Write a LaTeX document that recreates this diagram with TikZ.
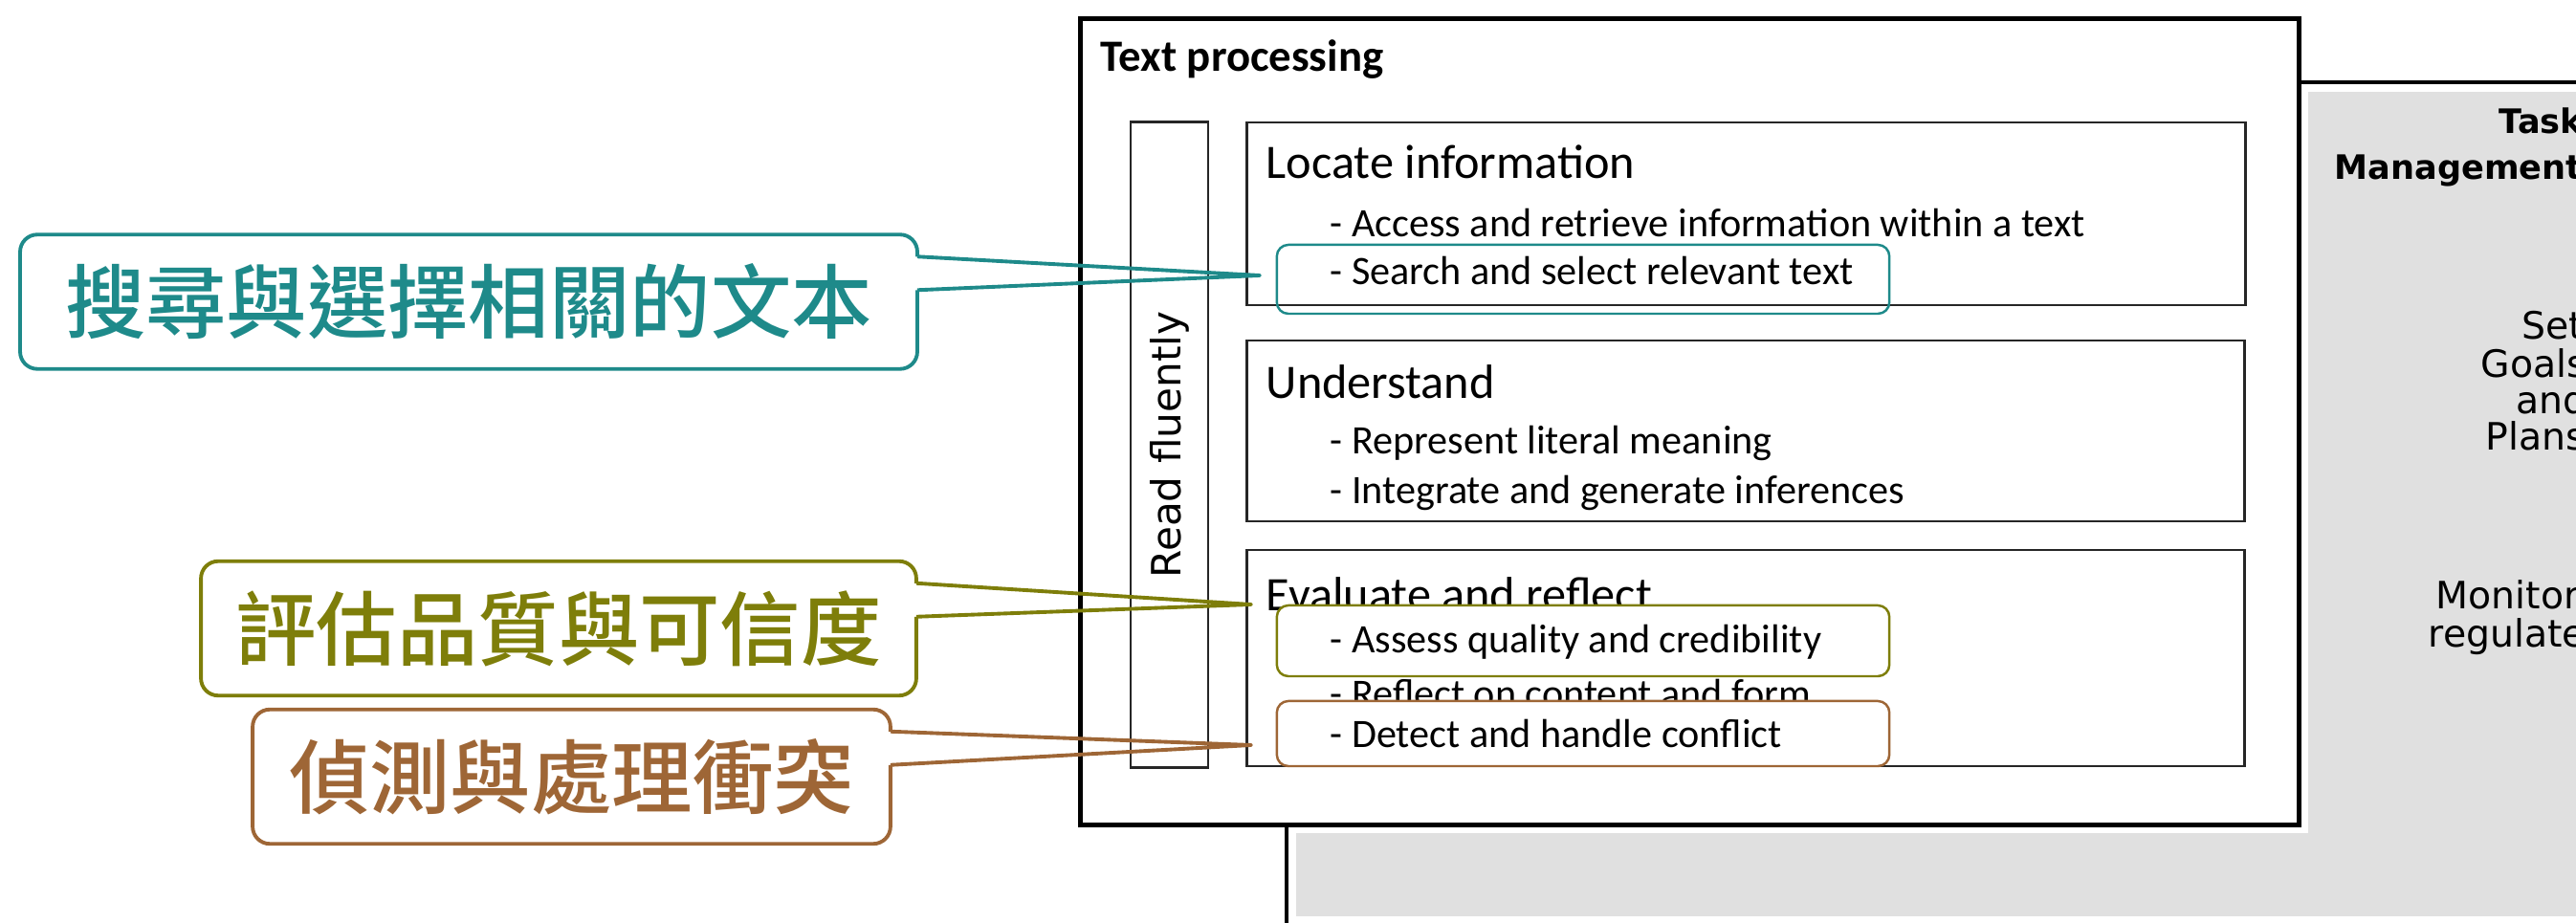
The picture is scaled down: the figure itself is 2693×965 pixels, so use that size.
\documentclass[tikz,border=0pt]{standalone}
\usepackage{fontspec}
\setmainfont{Carlito}
\newfontfamily\dejavu{DejaVu Sans}
\newfontfamily\cjkfont{Noto Sans CJK TC Medium}
\usepackage{tikz}

\definecolor{calteal}{RGB}{30,138,138}
\definecolor{calolive}{RGB}{126,126,10}
\definecolor{calbrown}{RGB}{158,102,54}
\definecolor{panelgray}{RGB}{224,224,224}

\tikzset{
	frame/.style={draw=black, line width=1.4pt, inner sep=0},
	stagebox/.style={draw=black!85, line width=0.8pt, inner sep=0},
	heading/.style={anchor=base west, inner sep=0, font=\fontsize{14.3}{16}\selectfont},
	bullet/.style={anchor=base west, inner sep=0, font=\fontsize{12}{14}\selectfont},
	panelword/.style={anchor=base west, inner sep=0, font=\dejavu\fontsize{11.2}{13}\selectfont},
	panelhead/.style={anchor=base west, inner sep=0, font=\dejavu\bfseries\fontsize{10}{12}\selectfont},
	hlbox/.style={draw=#1, line width=0.7pt, rounded corners=0.12cm, minimum width=6.4cm, inner sep=0},
	callout/.style={text=#1, inner sep=0, minimum height=1.39cm, font=\cjkfont\fontsize{24}{28}\selectfont},
	calline/.style={draw=#1, line width=1.1pt, line join=round}
}

\begin{document}
\begin{tikzpicture}[x=0.01cm, y=-0.01cm]
	\useasboundingbox (0,0) rectangle (2693,965);
	\clip (0,0) rectangle (2693,965);
	% task management panel, runs off the page
	\fill[white] (1345,86) rectangle (2760,1000);
	\fill[panelgray] (1355,96) rectangle (2760,958);
	\fill[white] (1121,11) rectangle (2413,871);
	\draw[frame] (1345,86) rectangle (2760,1000);
	\node[panelhead] (pwtask) at (2612,140) {Task};
	\node[panelhead] (pwmgmt) at (2440,188) {Management};
	\foreach \w/\x/\y in {Set/2636/355, Goals/2593/395, and/2630/433, Plans/2598/471, Monitor/2546/637, regulate/2538/677}
	\node[panelword] (pw\w) at (\x,\y) {\w};
	% text processing
	\node[frame, fill=white, minimum width=12.73cm, minimum height=8.42cm] (textproc) at (1766.5,441) {};
	\node[anchor=base west, inner sep=0, font=\bfseries\fontsize{13.3}{15}\selectfont] (tptitle) at (1150,75) {Text processing};
	\node[stagebox, rotate=90, minimum width=6.74cm, minimum height=0.81cm, font=\dejavu\fontsize{12}{14}\selectfont] (fluent) at (1222.5,465) {Read fluently};
	\node[stagebox, minimum width=10.43cm, minimum height=1.91cm] (locate) at (1825.5,223.5) {};
	\node[stagebox, minimum width=10.42cm, minimum height=1.89cm] (understand) at (1825,450.5) {};
	\node[stagebox, minimum width=10.42cm, minimum height=2.26cm] (evaluate) at (1825,688) {};
	\node[heading] (locatehd) at (1323,187) {Locate information};
	\node[heading] (understandhd) at (1323,417) {Understand};
	\node[heading] (evaluatehd) at (1323,639) {Evaluate and reflect};
	\foreach \nm/\y/\txt in {access/248/- Access and retrieve information within a text, search/298/- Search and select relevant text, represent/475/- Represent literal meaning, integrate/527/- Integrate and generate inferences, reflect/740/- Reflect on content and form}
	\node[bullet] (bl\nm) at (1390,\y) {\txt};
	% highlighted items
	\node[hlbox=calteal, minimum height=0.72cm] (hlsearch) at (1655,292) {};
	\node[hlbox=calolive, fill=white, minimum height=0.74cm] (hlassess) at (1655,670) {};
	\node[hlbox=calbrown, fill=white, minimum height=0.68cm] (hldetect) at (1655,767) {};
	\node[bullet] (blassess) at (1390,683) {- Assess quality and credibility};
	\node[bullet] (bldetect) at (1390,782) {- Detect and handle conflict};
	% callouts
	\foreach \nm/\col/\cx/\cy/\cw/\tx/\ty/\txt in {search/calteal/490/315.5/9.36/1317/288/搜尋與選擇相關的文本, assess/calolive/584/657/7.46/1308/632/評估品質與可信度, detect/calbrown/597.5/812/6.65/1308/779/偵測與處理衝突}
	{
		\node[callout=\col, minimum width=\cw cm] (co\nm) at (\cx,\cy) {\txt};
		\coordinate (tip\nm) at (\tx,\ty);
		\draw[calline=\col, rounded corners=0.18cm] ([yshift=-0.58cm]co\nm.north east) -- (co\nm.south east) -- (co\nm.south west) -- (co\nm.north west) -- (co\nm.north east) -- ([yshift=-0.23cm]co\nm.north east);
		\draw[calline=\col] ([yshift=-0.23cm]co\nm.north east) -- (tip\nm) -- ([yshift=-0.58cm]co\nm.north east);
	}
\end{tikzpicture}
\end{document}
